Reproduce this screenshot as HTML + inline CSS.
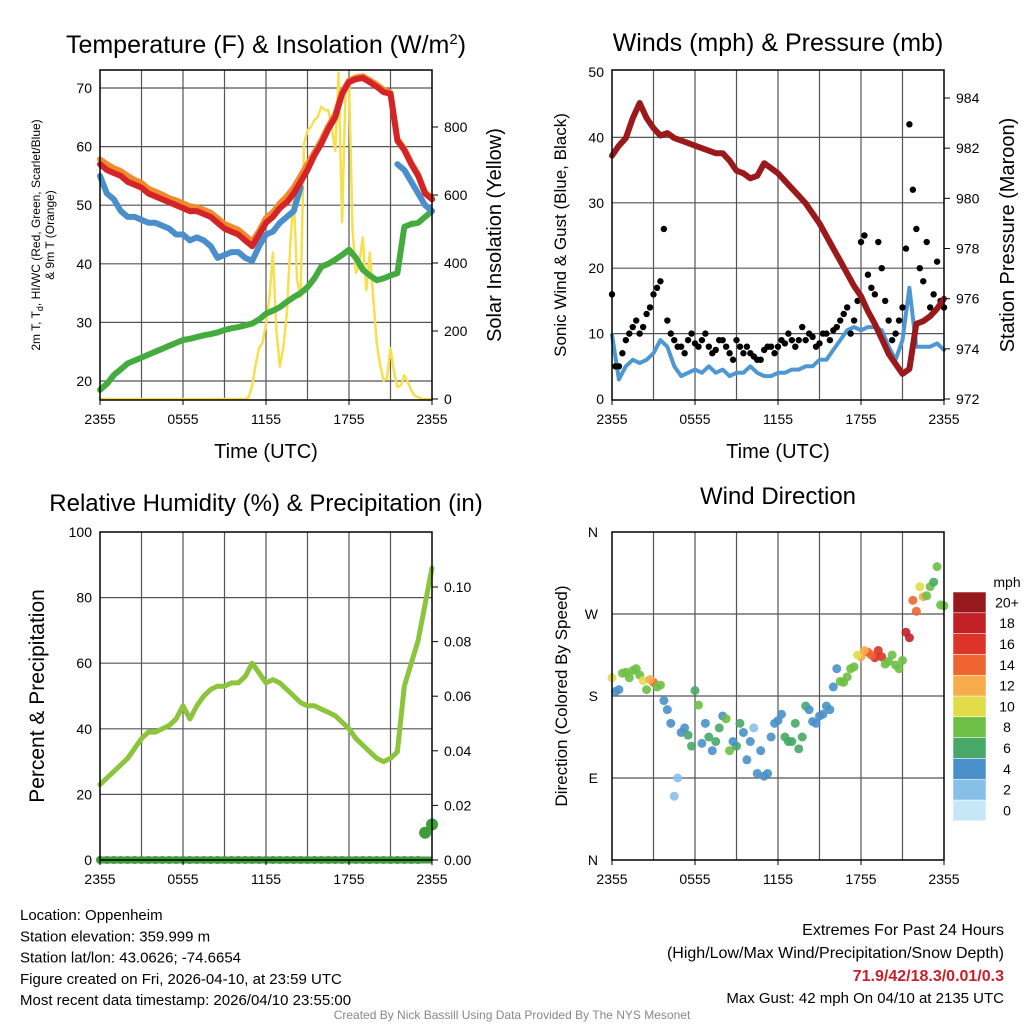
<!DOCTYPE html>
<html><head><meta charset="utf-8"><style>
body{margin:0;background:#fff}svg{display:block;font-family:"Liberation Sans",sans-serif}
</style></head><body>
<svg id="c" width="1024" height="1024" viewBox="0 0 1024 1024"></svg>
<script>
// ---------- data (half-hourly from 23:55, 49 points) ----------
const xTickLabels=["2355","0555","1155","1755","2355"];
const tempRed=[57,56,55.5,55,54,53.5,53,52,51.5,51,50.5,50,49.5,49,49,48.5,48,47,46,45.5,45,44,43,45,47,48,49.5,50.5,52,54,56,58.5,60.5,63,65,69,71,71.5,71.7,71,70.2,69.3,69,61,59.4,57,55,52,51];
const tempOrange=[57.8,57,56.3,55.8,55,54.3,53.8,52.8,52.3,51.8,51.2,50.8,50.3,49.8,49.6,49.2,48.7,47.8,46.8,46.3,45.8,44.8,43.8,45.6,47.8,48.8,50.3,51.5,53,55,57,59,61,63.5,65.5,69.3,71.3,71.8,72,71.3,70.6,69.7,69.2,61.3,59.6,57.2,55.2,52.2,51.2];
const tempBlue=[55,52,51,49,48,48,47.5,47,47,46.5,46,45,45,44,44.5,44,43,41,41.5,42,42,41,40.5,43,45,45.5,47,48,49,53,null,null,null,null,null,null,null,null,null,null,null,null,null,57,56,54,52,50,49];
const dewGreen=[18.5,19.5,21,22,23,23.5,24,24.5,25,25.5,26,26.5,27,27.2,27.5,27.8,28,28.3,28.7,29,29.2,29.5,29.8,30.5,31.5,32,32.6,33.5,34.3,35,36,37.5,39.5,40,40.7,41.5,42.4,41,39,38,37.2,37.5,38,38.4,46.3,46.8,47,48,49];
// insolation every 15 min (97 points)
const insol=[0,0,0,0,0,0,0,0,0,0,0,0,0,0,0,0,0,0,0,0,0,0,0,0,0,0,0,0,0,0,0,0,0,0,0,0,0,0,0,0,0,0,0,5,40,100,150,165,220,300,430,200,95,150,250,450,600,350,300,750,790,800,820,830,860,850,850,800,730,960,520,900,940,500,370,400,475,320,430,300,165,100,55,60,150,80,35,40,70,50,25,10,5,0,0,0,0];
const windSpd=[9.8,3,5,6,5.5,6,7,9,8,5,3.5,4,4.5,4,5,4,4.5,3.5,4,4,5,4,3.5,3.5,4,4,4.5,4.5,5,5,6,6,7.5,9,10.5,11,10.5,11,11,10.5,8,6,9,17,8,8,8,8.5,7.5];
const gust=[16,5,9,11,10,13,16,18,12,9,8,9,8.5,9,8,7.5,9,7,9,7,7,6,7.5,8,8,8.5,9,9,9,9.5,8.5,10,10.5,12,14,12,24,19,16,20,12,10,14,42,26,18,14,21,14];
const gust2=[5,7,10,12,11,14,17,26,10,8,7,10,8,10,7,9,8,6,8,8,6.5,6,8,7,9,10,8,11,10,8,10,9,11,13,10,15,25,17,24,15,9,12,23,32,20,24,16,15];
const pressure=[981.7,982.1,982.4,983.2,983.8,983.2,982.8,982.5,982.6,982.4,982.3,982.2,982.1,982.0,981.9,981.8,981.8,981.5,981.1,981.0,980.8,980.9,981.4,981.2,981.0,980.7,980.4,980.1,979.8,979.4,979.0,978.5,978.0,977.5,977.0,976.5,976.1,975.5,975.0,974.4,973.8,973.4,973.0,973.2,975.0,975.1,975.3,975.6,976.0];
const rh=[23,25,27,29,31,34,37,39,39,40,41,43,47,43,47,50,52,53,53,54,54,56,60,57,54,55,54,52,50,48,47,47,46,45,44,42,40,37,35,33,31,30,31,33,53,60,67,78,89];
const precip=[0,0,0,0,0,0,0,0,0,0,0,0,0,0,0,0,0,0,0,0,0,0,0,0,0,0,0,0,0,0,0,0,0,0,0,0,0,0,0,0,0,0,0,0,0,0,0,0.01,0.013];
const windDir=[200,187,206,208,203,187,195,192,165,70,140,137,186,128,135,130,158,120,125,140,130,95,92,135,153,135,130,122,169,152,158,169,190,196,201,212,223,228,222,223,218,214,219,244,273,289,300,322,279];
const windDirSpd=[10,4,7,8,7,7,13,8,3,2,4,5,6,4,5,6,3,8,5,3,4,4,4,4,4,6,6,5,6,4,4,4,4,7,7,8,11,13,15,15,8,7,8,18,14,11,7,7,7];
const windDir2=[185,205,200,210,197,198,190,175,150,90,145,125,170,150,120,145,155,130,150,110,145,120,95,150,160,130,150,135,165,150,160,165,210,195,210,225,230,225,230,215,225,210,250,285,300,290,305,280];
const windDirSpd2=[4,8,7,8,9,12,8,3,4,2,4,5,7,4,4,6,7,4,6,4,2,4,4,3,4,6,5,6,4,4,4,4,4,7,8,10,12,14,16,8,8,7,18,13,10,7,6,7];
const speedBins=["0","2","4","6","8","10","12","14","16","18","20+"];
const speedColors=["#c5e7f7","#86c0e8","#4a90c8","#47a867","#6dbf45","#e2dc4b","#f6ac4a","#ee6430","#dc3428","#c21f27","#961a1d"];

// ---------- helpers ----------
const NS="http://www.w3.org/2000/svg",svg=document.getElementById('c');
function mk(tag,at,parent){const e=document.createElementNS(NS,tag);for(const k in at)e.setAttribute(k,at[k]);(parent||svg).appendChild(e);return e;}
function txt(x,y,s,size,opt){opt=opt||{};const e=mk('text',{x:x,y:y,'font-size':size,'text-anchor':opt.anchor||'middle',fill:opt.fill||'#000'});if(opt.rot)e.setAttribute('transform','rotate('+opt.rot+' '+x+' '+y+')');if(opt.bold)e.setAttribute('font-weight','bold');e.textContent=s;return e;}
function xs(L,W){return h=>L+h*W/24;}
function lin(d0,d1,p0,p1){return v=>p0+(v-d0)*(p1-p0)/(d1-d0);}
function path(vals,step,off,X,Y,color,w,name){let d='',pen=false;vals.forEach((v,i)=>{if(v===null){pen=false;return;}const px=X(off+i*step),py=Y(v);d+=(pen?'L':'M')+px.toFixed(1)+' '+py.toFixed(1);pen=true;});const p=mk('path',{d:d,fill:'none',stroke:color,'stroke-width':w,'stroke-linejoin':'round','stroke-linecap':'round'});return p;}
function speedColor(s){let i=Math.min(10,Math.max(0,Math.round(s/2)));return speedColors[i];}

function frame(L,T,W,H,hLines,name){
  const g=mk('g',{});
  for(let k=1;k<8;k++){const x=L+k*W/8;mk('line',{x1:x,y1:T,x2:x,y2:T+H,stroke:'#555','stroke-width':1.2},g);}
  hLines.forEach(y=>mk('line',{x1:L,y1:y,x2:L+W,y2:y,stroke:'#555','stroke-width':1.2},g));
  return g;}
function border(L,T,W,H){mk('rect',{x:L,y:T,width:W,height:H,fill:'none',stroke:'#000','stroke-width':1.5});}
function xAxis(L,W,B,title){const X=xs(L,W);xTickLabels.forEach((s,i)=>{const t=txt(X(i*6),B+24,s,14);mk('line',{x1:X(i*6),y1:B,x2:X(i*6),y2:B+5,stroke:'#000'});});
  if(title){const t=txt(L+W/2,B+58,title,20);}}

// ---------- Panel 1: Temperature ----------
{const L=100,T=70,W=332,H=330,X=xs(L,W),Y=lin(20,70,381,88),YI=lin(0,800,399,127);
 frame(L,T,W,H,[20,30,40,50,60,70].map(Y),'temperature-grid');
 path(insol,0.25,0,X,YI,'#f6e04e',2.5,'insolation-line');
 path(dewGreen,0.5,0,X,Y,'#44ab3e',6,'dewpoint-line');
 path(tempOrange,0.5,0,X,Y,'#f08a2a',6,'temp-9m-line');
 path(tempBlue,0.5,0,X,Y,'#4a8fcb',6,'windchill-line');
 path(tempRed,0.5,0,X,Y,'#d42428',6,'temp-2m-line');
 border(L,T,W,H);
 [20,30,40,50,60,70].forEach(v=>{const t=txt(L-8,Y(v)+5,String(v),14,{anchor:'end'});});
 [0,200,400,600,800].forEach(v=>{mk('line',{x1:L+W,y1:YI(v),x2:L+W+6,y2:YI(v),stroke:'#000'});const t=txt(L+W+12,YI(v)+5,String(v),14,{anchor:'start'});});
 xAxis(L,W,T+H,'Time (UTC)');
 const tt=mk('text',{x:266,y:53,'font-size':25,'text-anchor':'middle'});tt.innerHTML='Temperature (F) &amp; Insolation (W/m<tspan dy="-9" font-size="15">2</tspan><tspan dy="9">)</tspan>';
 
 const yl=mk('text',{x:40,y:235,'font-size':12,'text-anchor':'middle',transform:'rotate(-90 40 235)'});yl.innerHTML='2m T, T<tspan dy="3" font-size="9">d</tspan><tspan dy="-3">, HI/WC (Red, Green, Scarlet/Blue)</tspan>';
 
 let a=txt(54,235,'& 9m T (Orange)',12,{rot:-90});
 a=txt(501,235,'Solar Insolation (Yellow)',20,{rot:-90});
}
// ---------- Panel 2: Winds & Pressure ----------
{const L=612,T=70,W=332,H=330,X=xs(L,W),Y=lin(0,50,399,72),YP=lin(972,984,399,98);
 frame(L,T,W,H,[10,20,30,40].map(Y),'winds-grid');
 path(windSpd,0.5,0,X,Y,'#4f97d2',4,'wind-speed-line');
 gust.forEach((v,i)=>{const c=mk('circle',{cx:X(i*0.5),cy:Y(v),r:3.2,fill:'#000'});});
 gust2.forEach((v,i)=>{const c=mk('circle',{cx:X(0.25+i*0.5),cy:Y(v),r:3.2,fill:'#000'});});
 path(pressure,0.5,0,X,YP,'#9a1a1c',6,'pressure-line');
 border(L,T,W,H);
 [0,10,20,30,40,50].forEach(v=>{const t=txt(L-8,Y(v)+5,String(v),14,{anchor:'end'});});
 [972,974,976,978,980,982,984].forEach(v=>{mk('line',{x1:L+W,y1:YP(v),x2:L+W+6,y2:YP(v),stroke:'#000'});const t=txt(L+W+12,YP(v)+5,String(v),14,{anchor:'start'});});
 xAxis(L,W,T+H,'Time (UTC)');
 let a=txt(778,51,'Winds (mph) & Pressure (mb)',25);
 a=txt(566,235,'Sonic Wind & Gust (Blue, Black)',17,{rot:-90});
 a=txt(1014,235,'Station Pressure (Maroon)',20,{rot:-90});
}
// ---------- Panel 3: RH & Precip ----------
{const L=100,T=532,W=332,H=328,X=xs(L,W),Y=lin(0,100,860,532),YP=lin(0,0.1,860,587);
 frame(L,T,W,H,[20,40,60,80].map(Y),'humidity-grid');
 path(rh,0.5,0,X,Y,'#8cc43e',5,'rh-line');
 mk('line',{x1:L,y1:860,x2:L+W,y2:860,stroke:'#3f9c3a','stroke-width':7});
 precip.forEach((v,i)=>{const c=mk('circle',{cx:X(i*0.5),cy:YP(v),r:v>0?6:4,fill:'#3f9c3a'});});
 border(L,T,W,H);
 [0,20,40,60,80,100].forEach(v=>{const t=txt(L-8,Y(v)+5,String(v),14,{anchor:'end'});});
 [0,0.02,0.04,0.06,0.08,0.1].forEach(v=>{mk('line',{x1:L+W,y1:YP(v),x2:L+W+6,y2:YP(v),stroke:'#000'});const t=txt(L+W+12,YP(v)+5,v.toFixed(2),14,{anchor:'start'});});
 xAxis(L,W,T+H,null);
 let a=txt(266,511,'Relative Humidity (%) & Precipitation (in)',24);
 a=txt(44,696,'Percent & Precipitation',21,{rot:-90});
}
// ---------- Panel 4: Wind Direction ----------
{const L=612,T=532,W=332,H=328,X=xs(L,W),Y=lin(0,360,860,532);
 frame(L,T,W,H,[90,180,270].map(Y),'direction-grid');
 windDir.forEach((v,i)=>{const c=mk('circle',{cx:X(i*0.5),cy:Y(v),r:4.5,fill:speedColor(windDirSpd[i]),'fill-opacity':0.9});});
 windDir2.forEach((v,i)=>{const c=mk('circle',{cx:X(0.25+i*0.5),cy:Y(v),r:4.5,fill:speedColor(windDirSpd2[i]),'fill-opacity':0.9});});
 border(L,T,W,H);
 ['N','E','S','W','N'].forEach((s,i)=>{const t=txt(L-14,Y(i*90)+5,s,14,{anchor:'end'});});
 xAxis(L,W,T+H,null);
 let a=txt(778,504,'Wind Direction',24);
 a=txt(567,696,'Direction (Colored By Speed)',17,{rot:-90});
 const bh=20.8,top=592;
 speedBins.forEach((s,i)=>{const y=top+(10-i)*bh;const r=mk('rect',{x:953,y:y,width:33,height:bh,fill:speedColors[i],stroke:'#fff','stroke-width':0.5});
   const t=txt(1007,y+bh/2+5,s,14);});
 a=txt(1007,587,'mph',14);
}
// ---------- footer ----------
{const left=['Location: Oppenheim','Station elevation: 359.999 m','Station lat/lon: 43.0626; -74.6654','Figure created on Fri, 2026-04-10, at 23:59 UTC','Most recent data timestamp: 2026/04/10 23:55:00'];
 left.forEach((s,i)=>{const t=txt(20,920+i*21.3,s,15,{anchor:'start'});});
 let a=txt(1004,935,'Extremes For Past 24 Hours',16,{anchor:'end'});
 a=txt(1004,958,'(High/Low/Max Wind/Precipitation/Snow Depth)',16,{anchor:'end'});
 a=txt(1004,981,'71.9/42/18.3/0.01/0.3',16,{anchor:'end',fill:'#c8202a',bold:true});
 a=txt(1004,1003,'Max Gust: 42 mph On 04/10 at 2135 UTC',15,{anchor:'end'});
 a=txt(512,1019,'Created By Nick Bassill Using Data Provided By The NYS Mesonet',12,{fill:'#888'});
}
</script>
</body></html>
